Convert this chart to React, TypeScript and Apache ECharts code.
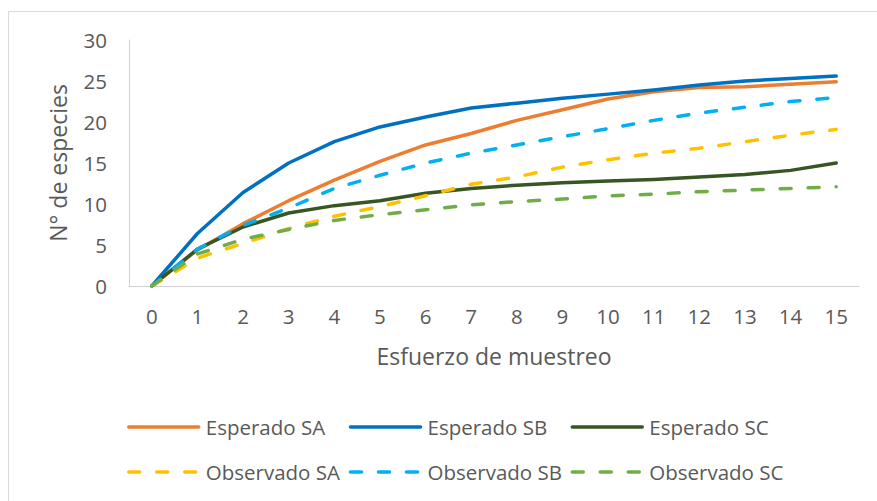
import React, { useEffect, useRef } from "react";
import * as echarts from "echarts";

const categories = ["0", "1", "2", "3", "4", "5", "6", "7", "8", "9", "10", "11", "12", "13", "14", "15"];
const esperadoSA = [0, 4.4, 7.6, 10.4, 12.9, 15.2, 17.2, 18.6, 20.2, 21.5, 22.8, 23.7, 24.2, 24.3, 24.6, 24.9];
const esperadoSB = [0, 6.4, 11.4, 15.0, 17.6, 19.4, 20.6, 21.7, 22.3, 22.9, 23.4, 23.9, 24.5, 25.0, 25.3, 25.6];
const esperadoSC = [0, 4.5, 7.2, 8.9, 9.8, 10.4, 11.3, 11.9, 12.3, 12.6, 12.8, 13.0, 13.3, 13.6, 14.1, 15.0];
const observadoSA = [0, 3.4, 5.2, 7.0, 8.5, 9.7, 11.0, 12.4, 13.3, 14.5, 15.4, 16.2, 16.8, 17.6, 18.4, 19.1];
const observadoSB = [0, 4.5, 7.4, 9.5, 11.9, 13.5, 15.0, 16.2, 17.2, 18.2, 19.2, 20.2, 21.1, 21.8, 22.5, 23.0];
const observadoSC = [0, 3.9, 5.7, 6.9, 8.0, 8.7, 9.3, 9.9, 10.3, 10.6, 11.0, 11.2, 11.5, 11.7, 11.9, 12.1];

const yMin = 0;
const yMax = 30;
const yInterval = 5;

const xTitle = "Esfuerzo de muestreo";
const yTitle = "N° de especies";

const rowEsperado = ["Esperado SA", "Esperado SB", "Esperado SC"];
const rowObservado = ["Observado SA", "Observado SB", "Observado SC"];

export default function App() {
  const ref = useRef<HTMLDivElement>(null);

  useEffect(() => {
    if (!ref.current) return;
    const chart = echarts.init(ref.current, null, { renderer: "svg" });
    const font = "'Open Sans', sans-serif";
    const textColor = "#595959";
    const axisColor = "#D0D0D0";

    const mk = (name: string, data: number[], color: string, dashed: boolean) => ({
      name,
      type: "line",
      data,
      symbol: "none",
      showSymbol: false,
      smooth: false,
      lineStyle: {
        color,
        width: 3.5,
        type: dashed ? [11, 17] : "solid",
        cap: "round",
        join: "round",
      },
      itemStyle: { color },
    });

    const legendBase = {
      orient: "horizontal",
      left: 127,
      padding: 0,
      itemWidth: 70,
      itemHeight: 14,
      itemGap: 5,
      selectedMode: false,
      lineStyle: { width: 3.5 },
      itemStyle: { opacity: 0 },
      textStyle: {
        color: textColor,
        fontFamily: font,
        fontSize: 20.5,
        lineHeight: 24,
        width: 138,
        padding: [0, 0, 0, 2],
      },
    };

    chart.setOption({
      animation: false,
      backgroundColor: "#FFFFFF",
      textStyle: { fontFamily: font },
      grid: { left: 129, right: 18, top: 40, bottom: 215, containLabel: false },
      graphic: [
        {
          type: "rect",
          shape: { x: 8.5, y: 11.5, width: 1000, height: 700 },
          style: { fill: "none", stroke: "#D9D9D9", lineWidth: 1 },
          silent: true,
          z: -10,
        },
      ],
      xAxis: {
        type: "category",
        data: categories,
        boundaryGap: true,
        axisLine: { show: true, lineStyle: { color: axisColor, width: 1 } },
        axisTick: { show: false },
        axisLabel: {
          color: textColor,
          fontFamily: font,
          fontSize: 20.5,
          lineHeight: 24,
          margin: 18,
          interval: 0,
        },
        name: xTitle,
        nameLocation: "middle",
        nameGap: 56,
        nameTextStyle: { color: textColor, fontFamily: font, fontSize: 23, lineHeight: 28 },
        splitLine: { show: false },
      },
      yAxis: {
        type: "value",
        min: yMin,
        max: yMax,
        interval: yInterval,
        axisLine: { show: true, lineStyle: { color: axisColor, width: 1 } },
        axisTick: { show: false },
        axisLabel: {
          color: textColor,
          fontFamily: font,
          fontSize: 20.5,
          margin: 22,
        },
        splitLine: { show: false },
        name: yTitle,
        nameLocation: "middle",
        nameGap: 57,
        nameTextStyle: { color: textColor, fontFamily: font, fontSize: 23, lineHeight: 28 },
      },
      legend: [
        { ...legendBase, top: 415, data: rowEsperado },
        { ...legendBase, top: 460, data: rowObservado },
      ],
      series: [
        mk("Esperado SA", esperadoSA, "#ED7D31", false),
        mk("Esperado SB", esperadoSB, "#0070C0", false),
        mk("Esperado SC", esperadoSC, "#375623", false),
        mk("Observado SA", observadoSA, "#FFC000", true),
        mk("Observado SB", observadoSB, "#00B0F0", true),
        mk("Observado SC", observadoSC, "#70AD47", true),
      ],
    });

    return () => {
      chart.dispose();
    };
  }, []);

  return (
    <div
      ref={ref}
      style={{ position: "fixed", left: 0, top: 0, width: 877, height: 501, background: "#FFFFFF" }}
    />
  );
}
